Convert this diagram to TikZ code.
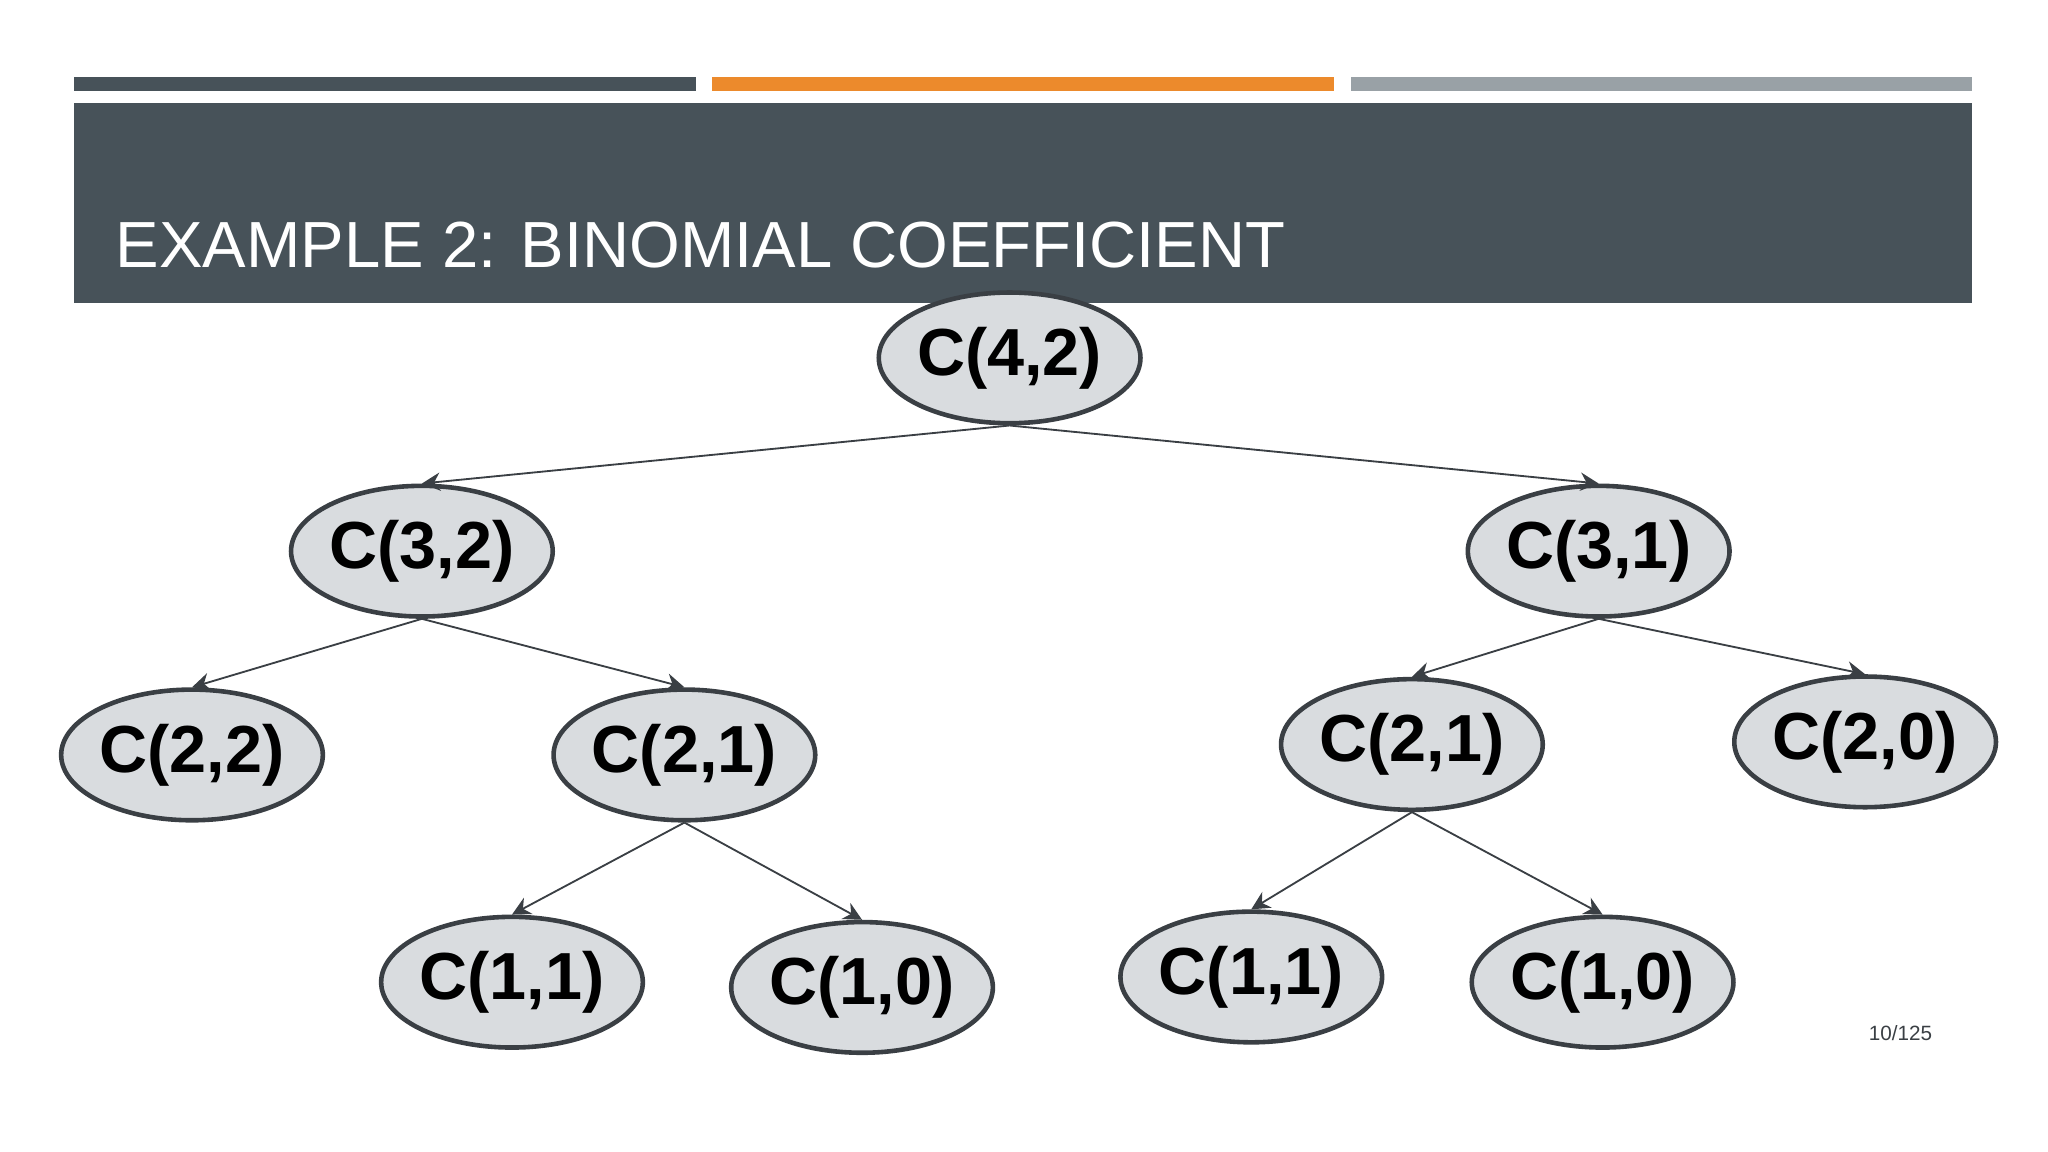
\documentclass[tikz,border=0pt]{standalone}
\usepackage{fontspec}
\setmainfont{Liberation Sans}
\usetikzlibrary{shapes.geometric,arrows.meta}
\definecolor{hdr}{HTML}{475259}
\definecolor{org}{HTML}{EC8A2C}
\definecolor{gry}{HTML}{99A1A6}
\definecolor{nfill}{HTML}{D9DCDF}
\definecolor{nline}{HTML}{3A3F44}
\tikzset{
 nd/.style={ellipse,draw=nline,line width=1pt,fill=nfill,minimum width=1.88cm,minimum height=1.0cm,inner sep=0pt,font=\fontsize{14.5}{16}\selectfont\bfseries},
 ed/.style={draw=nline,line width=0.4pt,-{Stealth[length=4pt,width=4pt]}}
}
\begin{document}
\begin{tikzpicture}[x=0.01cm,y=-0.01cm]
\useasboundingbox (0,0) rectangle (1568,882);
\fill[hdr] (57,59) rectangle (533,70);
\fill[org] (545,59) rectangle (1021,70);
\fill[gry] (1034,59) rectangle (1510,70);
\fill[hdr] (57,79) rectangle (1510,232);
\node[anchor=base west,text=white,font=\fontsize{14.2}{16}\selectfont,inner sep=0pt] (title) at (88,205) {EXAMPLE 2: BINOMIAL COEFFICIENT};
\node[nd] (a) at (773,274) {C(4,2)};
\node[nd] (b) at (323,422) {C(3,2)};
\node[nd] (c) at (1224,422) {C(3,1)};
\node[nd] (d) at (147,578) {C(2,2)};
\node[nd] (e) at (524,578) {C(2,1)};
\node[nd] (f) at (1081,570) {C(2,1)};
\node[nd] (g) at (1428,568) {C(2,0)};
\node[nd] (h) at (392,752) {C(1,1)};
\node[nd] (i) at (660,756) {C(1,0)};
\node[nd] (j) at (958,748) {C(1,1)};
\node[nd] (k) at (1227,752) {C(1,0)};
\draw[ed] (a.south) -- (b.north);
\draw[ed] (a.south) -- (c.north);
\draw[ed] (b.south) -- (d.north);
\draw[ed] (b.south) -- (e.north);
\draw[ed] (c.south) -- (f.north);
\draw[ed] (c.south) -- (g.north);
\draw[ed] (e.south) -- (h.north);
\draw[ed] (e.south) -- (i.north);
\draw[ed] (f.south) -- (j.north);
\draw[ed] (f.south) -- (k.north);
\node[font=\fontsize{4.5}{5}\selectfont,text=nline] (pg) at (1455,791) {10/125};
\end{tikzpicture}
\end{document}
